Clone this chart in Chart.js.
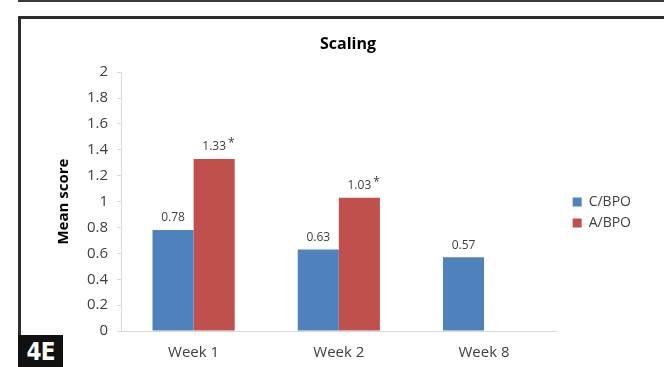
<!DOCTYPE html>
<html>
<head>
<meta charset="utf-8">
<script src="https://cdn.jsdelivr.net/npm/chart.js@4.4.1/dist/chart.umd.min.js"></script>
<style>
  html, body { margin: 0; padding: 0; background: #fff; }
  body { width: 664px; height: 367px; position: relative; overflow: hidden; }
  #topRule { position: absolute; left: 18px; top: 0; width: 646px; height: 2px; background: #3a3a3a; }
  #frame { position: absolute; left: 18px; top: 16px; width: 660px; height: 400px;
           border-left: 3px solid #2e2e2e; border-top: 3px solid #2e2e2e; box-sizing: border-box; }
  #panel { position: absolute; left: 18px; top: 335px; width: 45px; height: 32px; background: #111;
           color: #fff; font-family: "DejaVu Sans", sans-serif; font-weight: bold; font-size: 24px;
           font-stretch: condensed; line-height: 34px; text-align: center; letter-spacing: -1px; }
  #wrap { position: absolute; left: 0; top: 0; width: 664px; height: 367px; }
</style>
</head>
<body>
<div id="topRule"></div>
<div id="frame"></div>
<div id="wrap"><canvas id="chart" width="664" height="367"></canvas></div>
<div id="panel">4E</div>
<script>
// Mean scaling score by visit
const weeks = ['Week 1', 'Week 2', 'Week 8'];
const cBpo = [0.78, 0.63, 0.57];
const aBpo = [1.33, 1.03, null];
const aBpoMarks = ['*', '*', ''];
const yTicks = [0, 0.2, 0.4, 0.6, 0.8, 1, 1.2, 1.4, 1.6, 1.8, 2];

const FONT = '"Open Sans", sans-serif';
const TEXT = '#404040';

// Value labels above each bar, with a significance mark where given
const valueLabels = {
  id: 'valueLabels',
  afterDatasetsDraw(chart) {
    const ctx = chart.ctx;
    ctx.save();
    chart.data.datasets.forEach((ds, di) => {
      const meta = chart.getDatasetMeta(di);
      meta.data.forEach((bar, i) => {
        const v = ds.data[i];
        if (v === null || v === undefined) return;
        const txt = v.toFixed(2);
        ctx.font = '12px ' + FONT;
        ctx.fillStyle = TEXT;
        ctx.textAlign = 'center';
        ctx.textBaseline = 'bottom';
        ctx.fillText(txt, bar.x, bar.y - 6);
        const mark = ds.marks ? ds.marks[i] : '';
        if (mark) {
          const w = ctx.measureText(txt).width;
          ctx.textAlign = 'left';
          ctx.fillText(mark, bar.x + w / 2 + 2, bar.y - 9);
        }
      });
    });
    ctx.restore();
  }
};

new Chart(document.getElementById('chart'), {
  type: 'bar',
  data: {
    labels: weeks,
    datasets: [
      { label: 'C/BPO', data: cBpo, backgroundColor: '#4F81BD' },
      { label: 'A/BPO', data: aBpo, backgroundColor: '#C0504D', marks: aBpoMarks }
    ]
  },
  options: {
    responsive: false,
    animation: false,
    devicePixelRatio: 1,
    layout: { padding: { left: 55, right: 23, top: 35, bottom: 0 } },
    datasets: { bar: { categoryPercentage: 0.566, barPercentage: 1 } },
    plugins: {
      title: {
        display: true, text: 'Scaling', color: '#000',
        font: { family: FONT, size: 16, weight: 'bold' },
        padding: { top: 0, bottom: 18 }
      },
      legend: {
        position: 'right', align: 'center',
        title: { display: true, text: ' ', padding: 0, font: { size: 19 } },
        labels: {
          boxWidth: 9, boxHeight: 9, padding: 7, color: TEXT,
          font: { family: FONT, size: 14 }
        }
      },
      tooltip: { enabled: false }
    },
    scales: {
      x: {
        afterFit(scale) { scale.height = 36; },
        grid: { display: false, drawTicks: false },
        border: { color: '#d9d9d9', width: 1 },
        ticks: { color: TEXT, font: { family: FONT, size: 15 }, padding: 13 }
      },
      y: {
        min: 0, max: 2,
        afterFit(scale) { scale.width = 66; },
        afterBuildTicks(scale) { scale.ticks = yTicks.map(v => ({ value: v })); },
        grid: { drawOnChartArea: false, color: '#d9d9d9', tickLength: 4 },
        border: { color: '#d9d9d9', width: 1 },
        ticks: { color: TEXT, font: { family: FONT, size: 15 }, padding: 9,
                 callback: v => String(v) },
        title: {
          display: true, text: 'Mean score', color: '#000',
          font: { family: FONT, size: 15, weight: 'bold' }, padding: 0
        }
      },
      // empty gutter between the plot and the legend
      gap: {
        type: 'linear', position: 'right', display: true,
        afterFit(scale) { scale.width = 9; },
        grid: { display: false }, border: { display: false },
        ticks: { display: false }
      }
    }
  },
  plugins: [valueLabels]
});
</script>
</body>
</html>
